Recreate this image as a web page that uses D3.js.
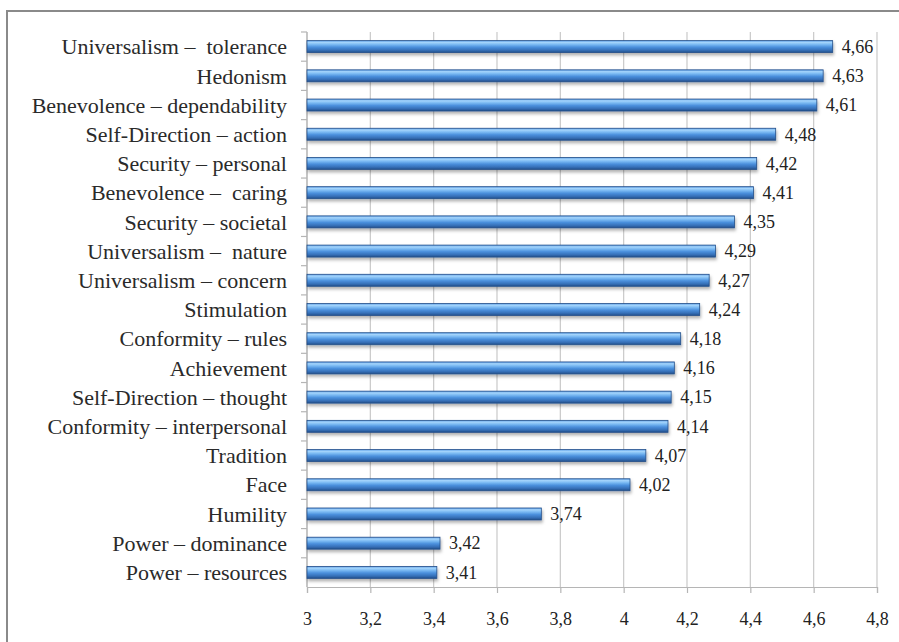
<!DOCTYPE html>
<html>
<head>
<meta charset="utf-8">
<script src="https://cdn.jsdelivr.net/npm/d3@7"></script>
<style>
  html, body { margin: 0; padding: 0; background: #fff; }
  svg { display: block; }
  svg text { font-family: "Liberation Serif", "Times New Roman", Times, Tinos, "Nimbus Roman", "DejaVu Serif", serif; }
</style>
</head>
<body>
<svg id="chart" width="899" height="642"></svg>
<script>
// Value categories (top to bottom) and their mean scores
const categories = [
  "Universalism –  tolerance",
  "Hedonism",
  "Benevolence – dependability",
  "Self-Direction – action",
  "Security – personal",
  "Benevolence –  caring",
  "Security – societal",
  "Universalism –  nature",
  "Universalism – concern",
  "Stimulation",
  "Conformity – rules",
  "Achievement",
  "Self-Direction – thought",
  "Conformity – interpersonal",
  "Tradition",
  "Face",
  "Humility",
  "Power – dominance",
  "Power – resources"
];
const values = [4.66, 4.63, 4.61, 4.48, 4.42, 4.41, 4.35, 4.29, 4.27, 4.24,
                4.18, 4.16, 4.15, 4.14, 4.07, 4.02, 3.74, 3.42, 3.41];
const xTicks = [3, 3.2, 3.4, 3.6, 3.8, 4, 4.2, 4.4, 4.6, 4.8];

const data = categories.map((c, i) => ({ name: c, value: values[i] }));

// Numbers use a decimal comma
const locale = d3.formatLocale({ decimal: ",", thousands: " ", grouping: [3], currency: ["", ""] });
const fmtVal = locale.format(".2f");
const fmtTick = v => locale.format("")(+v.toFixed(1));

const svg = d3.select("#chart");
const plot = { left: 307, right: 877, top: 32, bottom: 587 };

// Outer frame
svg.append("rect")
  .attr("x", 7).attr("y", 11)
  .attr("width", 1000).attr("height", 1000)
  .attr("fill", "#fff")
  .attr("stroke", "#8a8a8a").attr("stroke-width", 2);

const x = d3.scaleLinear().domain([3, 4.8]).range([plot.left, plot.right]);
const y = d3.scaleBand().domain(categories).range([plot.top, plot.bottom]).paddingInner(0.59).paddingOuter(0.295);
const yOuter = d3.scaleBand().domain(categories).range([plot.top, plot.bottom]);

// Gradient and shadow for the bars
const defs = svg.append("defs");
const grad = defs.append("linearGradient").attr("id", "barGrad")
  .attr("x1", 0).attr("y1", 0).attr("x2", 0).attr("y2", 1);
[["0%", "#5c9de6"], ["15%", "#a4d4fb"], ["32%", "#7bbaf3"], ["55%", "#4a8fdc"], ["80%", "#3670b8"], ["100%", "#224f8a"]]
  .forEach(([o, c]) => grad.append("stop").attr("offset", o).attr("stop-color", c));
const shadow = defs.append("filter").attr("id", "barShadow")
  .attr("x", "-5%").attr("y", "-50%").attr("width", "110%").attr("height", "250%");
shadow.append("feDropShadow").attr("dx", 1).attr("dy", 2.5).attr("stdDeviation", 1.5)
  .attr("flood-color", "#000").attr("flood-opacity", 0.3);

// Vertical gridlines
svg.append("g").selectAll("line").data(xTicks).join("line")
  .attr("x1", d => x(d)).attr("x2", d => x(d))
  .attr("y1", plot.top).attr("y2", plot.bottom)
  .attr("stroke", "#c9c9c9").attr("stroke-width", 1.2);

// Bottom axis
const xAxis = svg.append("g").attr("transform", `translate(0,${plot.bottom})`)
  .call(d3.axisBottom(x).tickValues(xTicks).tickFormat(fmtTick).tickSize(6).tickPadding(19));
xAxis.attr("font-family", null);
xAxis.select(".domain").attr("stroke", "#b5b5b5").attr("stroke-width", 1.2);
xAxis.selectAll(".tick line").attr("stroke", "#b5b5b5").attr("stroke-width", 1.2);
xAxis.selectAll(".tick text")
  .attr("fill", "#222").attr("font-size", 18);

// Left axis line with ticks at category boundaries
const yLine = svg.append("g");
yLine.append("line")
  .attr("x1", plot.left).attr("x2", plot.left)
  .attr("y1", plot.top).attr("y2", plot.bottom)
  .attr("stroke", "#b5b5b5").attr("stroke-width", 1.2);
yLine.selectAll("line.tk").data(categories).join("line").attr("class", "tk")
  .attr("x1", plot.left - 6).attr("x2", plot.left)
  .attr("y1", d => yOuter(d)).attr("y2", d => yOuter(d))
  .attr("stroke", "#b5b5b5").attr("stroke-width", 1.2);

// Category labels
svg.append("g").selectAll("text").data(data).join("text")
  .attr("x", 287)
  .attr("y", d => yOuter(d.name) + yOuter.bandwidth() / 2)
  .attr("dy", "0.35em")
  .attr("text-anchor", "end")
  .attr("font-size", 22)
  .attr("fill", "#2a2a2a")
  .style("white-space", "pre")
  .text(d => d.name);

// Bars
const bars = svg.append("g").attr("filter", "url(#barShadow)");
bars.selectAll("rect").data(data).join("rect")
  .attr("x", x(3))
  .attr("y", d => y(d.name))
  .attr("width", d => x(d.value) - x(3))
  .attr("height", y.bandwidth())
  .attr("fill", "url(#barGrad)")
  .attr("stroke", "#24508a").attr("stroke-width", 0.8);

// Value labels
svg.append("g").selectAll("text").data(data).join("text")
  .attr("x", d => x(d.value) + 9)
  .attr("y", d => y(d.name) + y.bandwidth() / 2)
  .attr("dy", "0.35em")
  .attr("font-size", 18)
  .attr("fill", "#222")
  .text(d => fmtVal(d.value));
</script>
</body>
</html>
